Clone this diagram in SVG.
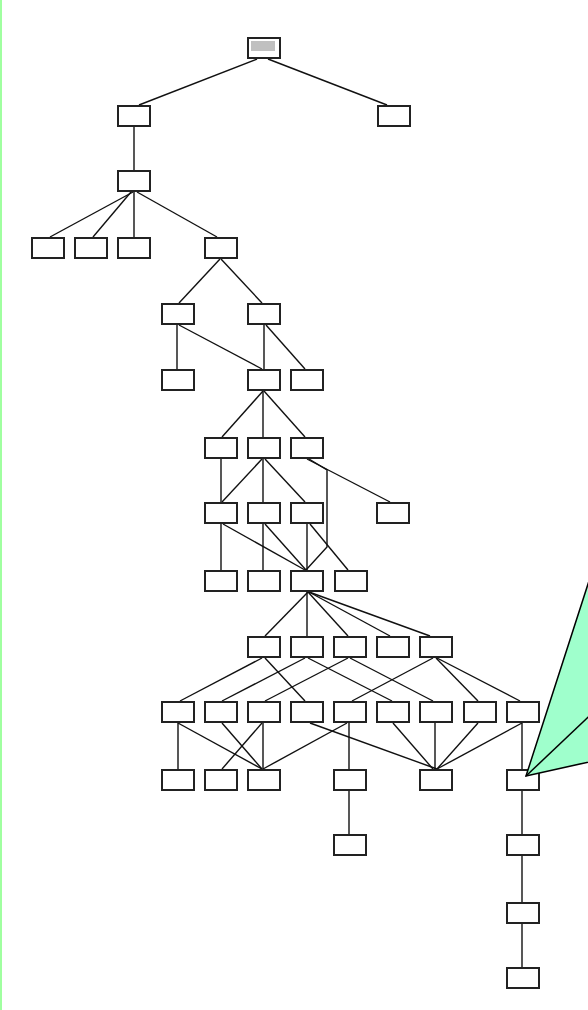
<svg xmlns="http://www.w3.org/2000/svg" width="588" height="1010" viewBox="0 0 588 1010">
<style>
.bx{fill:#fff;stroke:#222;stroke-width:2}
.e line,.e polyline{stroke:#111;stroke-width:1.4;fill:none}
</style>
<defs>
<rect id="b" class="bx" x="1" y="1" width="32" height="20" fill="#fff" stroke="#222" stroke-width="2"/>
</defs>
<rect x="0" y="0" width="588" height="1010" fill="#fff"/>
<rect x="0" y="0" width="2" height="1010" fill="#a0ffa0"/>
<g id="connectors" class="e">
<line x1="257" y1="59" x2="139" y2="105"/>
<line x1="268" y1="59" x2="387" y2="105"/>
<line x1="134" y1="127" x2="134" y2="170"/>
<line x1="133" y1="192" x2="50" y2="237"/>
<line x1="131" y1="192" x2="93" y2="237"/>
<line x1="134" y1="192" x2="134" y2="237"/>
<line x1="137" y1="192" x2="217" y2="237"/>
<line x1="220" y1="259" x2="179" y2="303"/>
<line x1="221" y1="259" x2="262" y2="303"/>
<line x1="177" y1="325" x2="177" y2="369"/>
<line x1="179" y1="325" x2="262" y2="369"/>
<line x1="264" y1="325" x2="264" y2="369"/>
<line x1="266" y1="325" x2="305" y2="369"/>
<line x1="263" y1="391" x2="222" y2="437"/>
<line x1="263" y1="391" x2="263" y2="437"/>
<line x1="264" y1="391" x2="305" y2="437"/>
<line x1="221" y1="459" x2="221" y2="502"/>
<line x1="262" y1="459" x2="222" y2="502"/>
<line x1="263" y1="459" x2="263" y2="502"/>
<line x1="265" y1="459" x2="305" y2="502"/>
<line x1="307" y1="459" x2="390" y2="502"/>
<polyline points="309,459 327,470 327,547 306,570"/>
<line x1="221" y1="524" x2="221" y2="570"/>
<line x1="223" y1="524" x2="305" y2="570"/>
<line x1="263" y1="524" x2="263" y2="570"/>
<line x1="265" y1="524" x2="306" y2="570"/>
<line x1="307" y1="524" x2="307" y2="570"/>
<line x1="310" y1="524" x2="348" y2="570"/>
<line x1="308" y1="592" x2="265" y2="636"/>
<line x1="307" y1="592" x2="307" y2="636"/>
<line x1="308" y1="592" x2="348" y2="636"/>
<line x1="309" y1="592" x2="390" y2="636"/>
<line x1="309" y1="592" x2="430" y2="636"/>
<line x1="262" y1="658" x2="180" y2="701"/>
<line x1="265" y1="658" x2="305" y2="701"/>
<line x1="305" y1="658" x2="222" y2="701"/>
<line x1="308" y1="658" x2="392" y2="701"/>
<line x1="348" y1="658" x2="265" y2="701"/>
<line x1="350" y1="658" x2="433" y2="701"/>
<line x1="433" y1="658" x2="352" y2="701"/>
<line x1="436" y1="658" x2="478" y2="701"/>
<line x1="437" y1="658" x2="520" y2="701"/>
<line x1="178" y1="723" x2="178" y2="769"/>
<line x1="178" y1="723" x2="262" y2="769"/>
<line x1="222" y1="723" x2="262" y2="769"/>
<line x1="262" y1="723" x2="222" y2="769"/>
<line x1="263" y1="723" x2="263" y2="769"/>
<line x1="310" y1="723" x2="437" y2="769"/>
<line x1="349" y1="723" x2="349" y2="769"/>
<line x1="347" y1="723" x2="263" y2="769"/>
<line x1="393" y1="723" x2="433" y2="769"/>
<line x1="435" y1="723" x2="435" y2="769"/>
<line x1="478" y1="723" x2="437" y2="769"/>
<line x1="522" y1="723" x2="437" y2="769"/>
<line x1="522" y1="723" x2="522" y2="769"/>
<line x1="349" y1="791" x2="349" y2="834"/>
<line x1="522" y1="791" x2="522" y2="834"/>
<line x1="522" y1="856" x2="522" y2="902"/>
<line x1="522" y1="924" x2="522" y2="967"/>
</g>
<g id="root" transform="translate(247,37)"><use href="#b"/><rect x="4" y="4" width="24" height="10" fill="#c0c0c0"/></g>
<g id="r1a" transform="translate(117,105)"><use href="#b"/></g>
<g id="r1b" transform="translate(377,105)"><use href="#b"/></g>
<g id="r2a" transform="translate(117,170)"><use href="#b"/></g>
<g id="r3a" transform="translate(31,237)"><use href="#b"/></g>
<g id="r3b" transform="translate(74,237)"><use href="#b"/></g>
<g id="r3c" transform="translate(117,237)"><use href="#b"/></g>
<g id="r3d" transform="translate(204,237)"><use href="#b"/></g>
<g id="r4a" transform="translate(161,303)"><use href="#b"/></g>
<g id="r4b" transform="translate(247,303)"><use href="#b"/></g>
<g id="r5a" transform="translate(161,369)"><use href="#b"/></g>
<g id="r5b" transform="translate(247,369)"><use href="#b"/></g>
<g id="r5c" transform="translate(290,369)"><use href="#b"/></g>
<g id="r6a" transform="translate(204,437)"><use href="#b"/></g>
<g id="r6b" transform="translate(247,437)"><use href="#b"/></g>
<g id="r6c" transform="translate(290,437)"><use href="#b"/></g>
<g id="r7a" transform="translate(204,502)"><use href="#b"/></g>
<g id="r7b" transform="translate(247,502)"><use href="#b"/></g>
<g id="r7c" transform="translate(290,502)"><use href="#b"/></g>
<g id="r7d" transform="translate(376,502)"><use href="#b"/></g>
<g id="r8a" transform="translate(204,570)"><use href="#b"/></g>
<g id="r8b" transform="translate(247,570)"><use href="#b"/></g>
<g id="r8c" transform="translate(290,570)"><use href="#b"/></g>
<g id="r8d" transform="translate(334,570)"><use href="#b"/></g>
<g id="r9a" transform="translate(247,636)"><use href="#b"/></g>
<g id="r9b" transform="translate(290,636)"><use href="#b"/></g>
<g id="r9c" transform="translate(333,636)"><use href="#b"/></g>
<g id="r9d" transform="translate(376,636)"><use href="#b"/></g>
<g id="r9e" transform="translate(419,636)"><use href="#b"/></g>
<g id="r10a" transform="translate(161,701)"><use href="#b"/></g>
<g id="r10b" transform="translate(204,701)"><use href="#b"/></g>
<g id="r10c" transform="translate(247,701)"><use href="#b"/></g>
<g id="r10d" transform="translate(290,701)"><use href="#b"/></g>
<g id="r10e" transform="translate(333,701)"><use href="#b"/></g>
<g id="r10f" transform="translate(376,701)"><use href="#b"/></g>
<g id="r10g" transform="translate(419,701)"><use href="#b"/></g>
<g id="r10h" transform="translate(463,701)"><use href="#b"/></g>
<g id="r10i" transform="translate(506,701)"><use href="#b"/></g>
<g id="r11a" transform="translate(161,769)"><use href="#b"/></g>
<g id="r11b" transform="translate(204,769)"><use href="#b"/></g>
<g id="r11c" transform="translate(247,769)"><use href="#b"/></g>
<g id="r11d" transform="translate(333,769)"><use href="#b"/></g>
<g id="r11e" transform="translate(419,769)"><use href="#b"/></g>
<g id="r11f" transform="translate(506,769)"><use href="#b"/></g>
<g id="r12a" transform="translate(333,834)"><use href="#b"/></g>
<g id="r12b" transform="translate(506,834)"><use href="#b"/></g>
<g id="r13" transform="translate(506,902)"><use href="#b"/></g>
<g id="r14" transform="translate(506,967)"><use href="#b"/></g>
<g id="callout">
<polygon points="526,776 620,485 620,755" fill="#9fffcc" stroke="#000" stroke-width="1.5"/>
<line x1="526" y1="776" x2="620" y2="687" stroke="#000" stroke-width="1.5"/>
</g>
</svg>
